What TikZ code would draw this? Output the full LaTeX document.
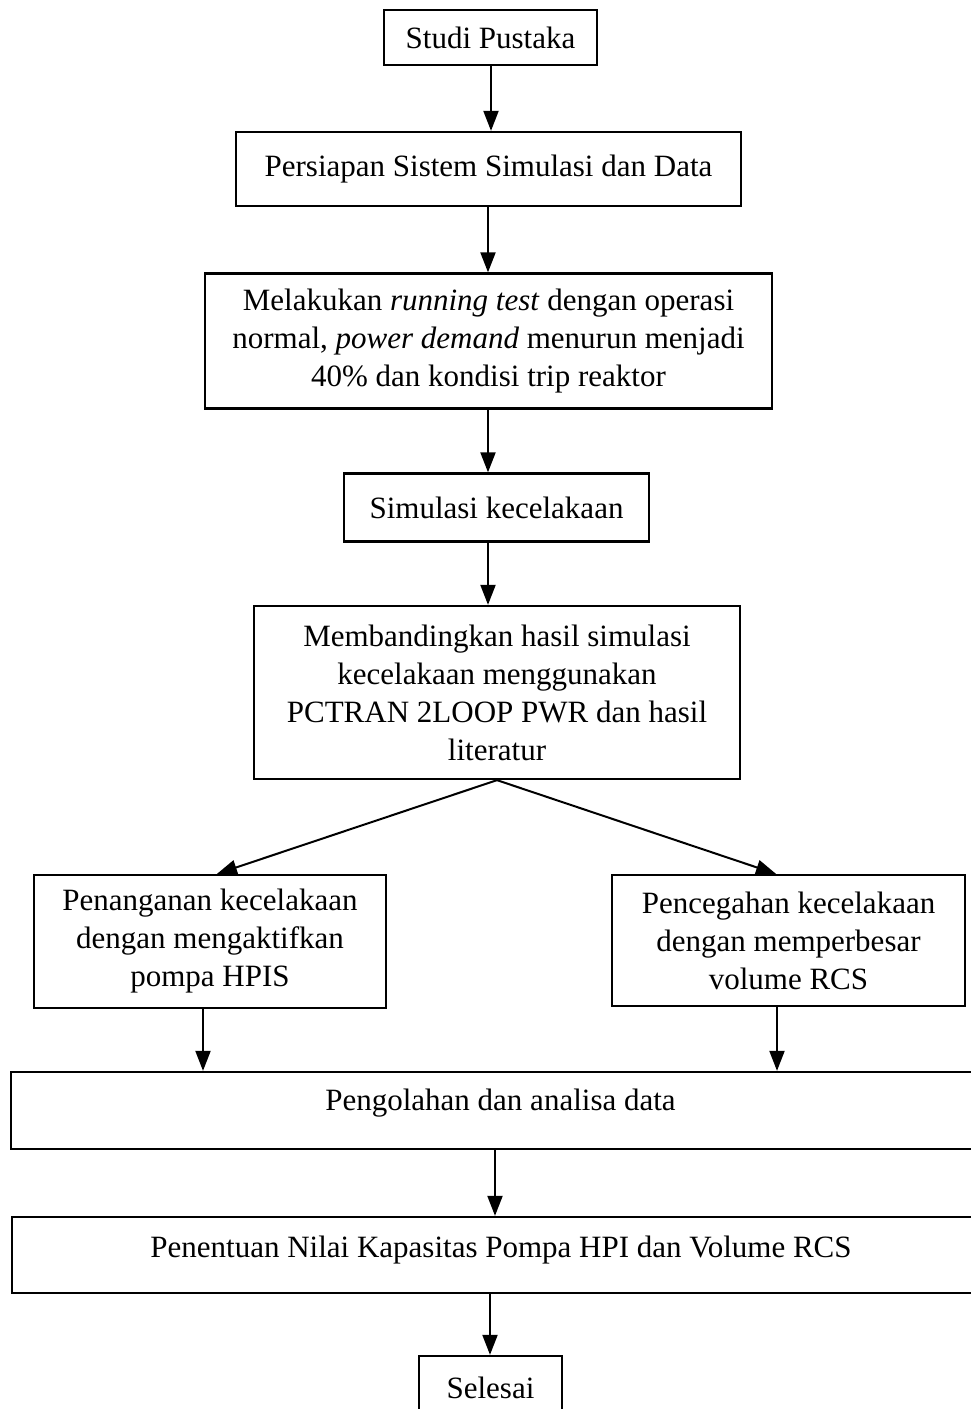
\documentclass[tikz,border=0pt]{standalone}
\usepackage{fontspec}
\setmainfont{Liberation Serif}
\usetikzlibrary{arrows.meta,calc}
\begin{document}
\begin{tikzpicture}[x=1pt,y=-1pt,
  box/.style={draw=black,line width=2.3pt,align=center,inner sep=0pt,
    font=\fontsize{31}{38}\selectfont},
  arr/.style={line width=2pt,-{Triangle[width=15pt,length=20pt]}}]
\useasboundingbox (0,0) rectangle (970,1409);
\node[box,minimum width=213pt,minimum height=55pt] (b1) at (490.5,37.5) {Studi Pustaka};
\node[box,minimum width=505pt,minimum height=74pt] (b2) at (488.5,169) {Persiapan Sistem Simulasi dan Data};
\node[box,minimum width=567pt,minimum height=135pt] (b3) at (488.5,341) {Melakukan \textit{running test} dengan operasi\\normal, \textit{power demand} menurun menjadi\\40\% dan kondisi trip reaktor};
\node[box,minimum width=305pt,minimum height=68pt] (b4) at (496.5,507.5) {Simulasi kecelakaan};
\node[box,minimum width=486pt,minimum height=173pt] (b5) at (497,692.5) {Membandingkan hasil simulasi\\kecelakaan menggunakan\\PCTRAN 2LOOP PWR dan hasil\\literatur};
\node[box,minimum width=352pt,minimum height=133pt] (b6l) at (210,941.5) {Penanganan kecelakaan\\dengan mengaktifkan\\pompa HPIS};
\node[box,minimum width=353pt,minimum height=131pt] (b6r) at (788.5,940.5) {Pencegahan kecelakaan\\dengan memperbesar\\volume RCS};
\node[box,minimum width=979pt,minimum height=77pt] (b7) at (500.5,1110.5) {\raisebox{0pt}[0pt][0pt]{Pengolahan dan analisa data}};
\node[box,minimum width=978pt,minimum height=76pt] (b8) at (501,1255) {\raisebox{-2pt}[0pt][0pt]{Penentuan Nilai Kapasitas Pompa HPI dan Volume RCS}};
\node[box,minimum width=143pt,minimum height=84pt] (b9) at (490.5,1398) {\raisebox{0pt}[0pt][0pt]{Selesai}};
\coordinate (s5) at ($(b5.south)+(0,0)$);
\draw[arr] (b1.south -| 491,0) -- (b2.north -| 491,0);
\draw[arr] (b2.south -| 488,0) -- (b3.north -| 488,0);
\draw[arr] (b3.south -| 488,0) -- (b4.north -| 488,0);
\draw[arr] (b4.south -| 488,0) -- (b5.north -| 488,0);
\draw[arr] (s5) -- (b6l.north -| 217,0);
\draw[arr] (s5) -- (b6r.north -| 776,0);
\draw[arr] (b6l.south -| 203,0) -- (b7.north -| 203,0);
\draw[arr] (b6r.south -| 777,0) -- (b7.north -| 777,0);
\draw[arr] (b7.south -| 495,0) -- (b8.north -| 495,0);
\draw[arr] (b8.south -| 490,0) -- (b9.north -| 490,0);
\end{tikzpicture}
\end{document}
